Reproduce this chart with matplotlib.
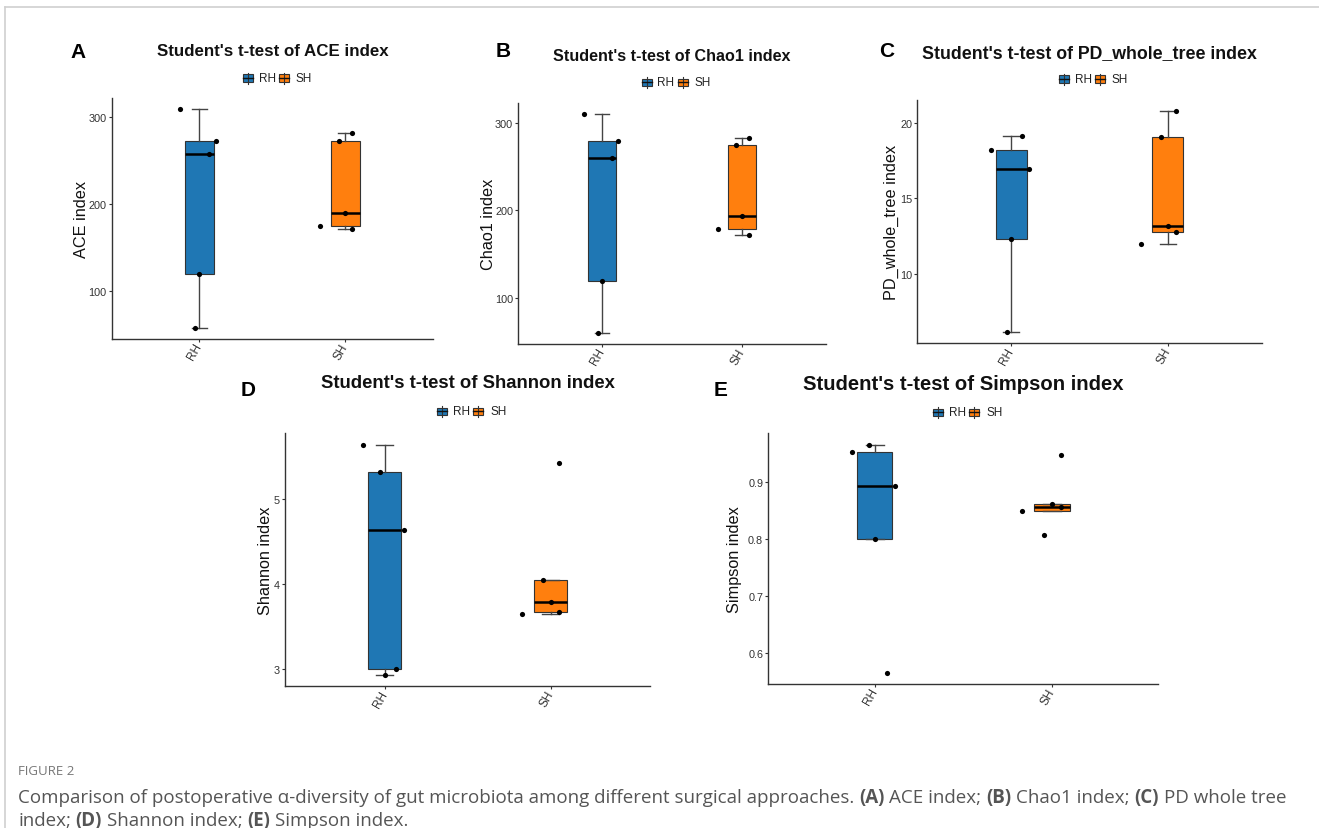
'''
Box plots of alpha diversity indices (RH vs SH), five panels plus caption
'''
import matplotlib
matplotlib.use('Agg')
import numpy as np
import matplotlib.pyplot as plt
from matplotlib.patches import Rectangle
from matplotlib.lines import Line2D

W, H = 1319, 829

GROUPS = ['RH', 'SH']
COLORS = ['#1f77b4', '#ff7f0e']

# sample values, same sample order in every panel
ace_rh = [309, 273, 258, 120, 58]
ace_sh = [282, 272, 190, 175, 172]
chao1_rh = [310, 279, 260, 119, 60]
chao1_sh = [282, 275, 193, 179, 172]
pd_rh = [18.2, 16.95, 19.16, 12.33, 6.11]
pd_sh = [20.79, 19.07, 13.13, 11.94, 12.74]
shannon_rh = [5.64, 4.63, 3.0, 2.93, 5.32]
shannon_sh = [5.42, 4.05, 3.79, 3.64, 3.67]
simpson_rh = [0.953, 0.894, 0.565, 0.800, 0.966]
simpson_sh = [0.948, 0.807, 0.861, 0.850, 0.857]

# horizontal jitter of the points
jit_rh = [-0.13, 0.115, 0.07, 0.0, -0.03]
jit_sh = [0.05, -0.045, 0.0, -0.17, 0.05]

plt.rcParams['font.family'] = ['Liberation Sans', 'DejaVu Sans']

fig = plt.figure(figsize=(W / 100, H / 100), dpi=100)
R = fig.canvas.get_renderer()

def fx(x):
    return x / W

def fy(y):
    return 1 - y / H

# panel layout in pixels: axes box, title, legend, letter, ylabel x
PANELS = [
    dict(letter='A', name='ACE', data=(ace_rh, ace_sh), ticks=[100, 200, 300],
         box=(111.7, 99.3, 432.7, 340), title=(273, 52), leg=(276.5, 79),
         let=(78, 52), ylab=81.5, tsize=12.2),
    dict(letter='B', name='Chao1', data=(chao1_rh, chao1_sh), ticks=[100, 200, 300],
         box=(518.3, 104, 826, 345), title=(671.7, 56.7), leg=(675, 83.3),
         let=(503, 51.7), ylab=488.5, tsize=11.6),
    dict(letter='C', name='PD_whole_tree', data=(pd_rh, pd_sh), ticks=[10, 15, 20],
         box=(917.3, 101, 1261.7, 344.3), title=(1089, 53.3), leg=(1092, 80),
         let=(886.7, 51.7), ylab=891, tsize=12.8),
    dict(letter='D', name='Shannon', data=(shannon_rh, shannon_sh), ticks=[3, 4, 5],
         box=(285.3, 434, 650, 687.3), title=(467.5, 383.3), leg=(470.7, 412.3),
         let=(248.3, 390), ylab=265, tsize=13.3),
    dict(letter='E', name='Simpson', data=(simpson_rh, simpson_sh), ticks=[0.6, 0.7, 0.8, 0.9],
         box=(768.3, 434.3, 1158.3, 685), title=(963, 385), leg=(966.7, 413.3),
         let=(720.7, 390), ylab=735, tsize=14.6),
]

def legend_key(x, y, color):
    # small boxplot glyph like ggplot's legend key
    fig.add_artist(Line2D([fx(x + 5), fx(x + 5)], [fy(y - 5.5), fy(y + 5.5)],
                          color='#333333', lw=0.8))
    fig.add_artist(Rectangle((fx(x), fy(y + 3.8)), 10 / W, 7.6 / H,
                             facecolor=color, edgecolor='#333333', lw=0.8))
    fig.add_artist(Line2D([fx(x), fx(x + 10)], [fy(y), fy(y)], color='#111111', lw=1.0))

for p in PANELS:
    l, t, r, b = p['box']
    ax = fig.add_axes([fx(l), fy(b), (r - l) / W, (b - t) / H])
    rh, sh = p['data']
    bp = ax.boxplot([rh, sh], positions=[1, 2], widths=0.2, patch_artist=True,
                    showfliers=False, whis=1.5, capwidths=0.1,
                    medianprops=dict(color='black', lw=1.8),
                    boxprops=dict(edgecolor='#333333', lw=0.8),
                    whiskerprops=dict(color='#444444', lw=1.0),
                    capprops=dict(color='#444444', lw=1.0))
    for patch, c in zip(bp['boxes'], COLORS):
        patch.set_facecolor(c)
    ax.scatter(1 + np.array(jit_rh), rh, s=14, color='black', zorder=4, lw=0)
    ax.scatter(2 + np.array(jit_sh), sh, s=14, color='black', zorder=4, lw=0)

    ax.set_xlim(0.4, 2.6)
    ax.margins(y=0.05)
    ax.set_yticks(p['ticks'], [f'{v:g}' for v in p['ticks']])
    ax.set_xticks([1, 2], GROUPS)
    for lab in ax.get_xticklabels():
        lab.set_rotation(60)
        lab.set_ha('right')
        lab.set_va('center')
        lab.set_rotation_mode('anchor')
    ax.tick_params(colors='#333333', length=2.5, width=0.8, pad=1.2)
    ax.tick_params(axis='y', labelsize=7.8)
    ax.tick_params(axis='x', labelsize=8.5)
    for s in ['top', 'right']:
        ax.spines[s].set_visible(False)
    for s in ['left', 'bottom']:
        ax.spines[s].set_color('#333333')
        ax.spines[s].set_linewidth(1.0)

    fig.text(fx(p['title'][0]), fy(p['title'][1]), f"Student's t-test of {p['name']} index",
             ha='center', va='center', fontsize=p['tsize'], weight='bold', color='#111111')
    fig.text(fx(p['let'][0]), fy(p['let'][1]), p['letter'], ha='center', va='center',
             fontsize=15, weight='bold', color='black')
    fig.text(fx(p['ylab']), fy((t + b) / 2), f"{p['name']} index", rotation=90,
             ha='center', va='center', fontsize=11.7, color='#111111')

    cx, cy = p['leg']
    legend_key(cx - 33.5, cy, COLORS[0])
    fig.text(fx(cx - 17.5), fy(cy), 'RH', ha='left', va='center', fontsize=8.5, color='#222222')
    legend_key(cx + 2.5, cy, COLORS[1])
    fig.text(fx(cx + 19.5), fy(cy), 'SH', ha='left', va='center', fontsize=8.5, color='#222222')

# frame lines of the figure page
fig.add_artist(Line2D([fx(5), 1], [fy(8), fy(8)], color='#d0d0d0', lw=1.2))
fig.add_artist(Line2D([fx(5), fx(5)], [fy(8), 0], color='#d0d0d0', lw=1.2))

# caption
CAP_FONT = ['Open Sans', 'DejaVu Sans']
CAP_COLOR = '#555555'

def text_w(s, **kw):
    tx = fig.text(0, 0, s, **kw)
    w = tx.get_window_extent(renderer=R).width
    tx.remove()
    return w

def rich(x, y, parts, size):
    for s, bold in parts:
        kw = dict(fontsize=size, family=CAP_FONT, weight='bold' if bold else 'normal')
        sp = text_w('x x', **kw) - text_w('xx', **kw)
        lead = len(s) - len(s.lstrip(' '))
        trail = len(s) - len(s.rstrip(' '))
        x += lead * sp
        core = s.strip(' ')
        if core:
            fig.text(fx(x), fy(y), core, ha='left', va='center', color=CAP_COLOR, **kw)
            x += text_w(core, **kw)
        x += trail * sp

fig.text(fx(18), fy(772), 'FIGURE 2', ha='left', va='center', fontsize=9.5,
         family=CAP_FONT, color='#777777')
rich(18, 798, [('Comparison of postoperative \u03b1-diversity of gut microbiota among different '
                'surgical approaches. ', False), ('(A)', True), (' ACE index; ', False),
               ('(B)', True), (' Chao1 index; ', False), ('(C)', True),
               (' PD whole tree', False)], 13.5)
rich(18, 821, [('index; ', False), ('(D)', True), (' Shannon index; ', False),
               ('(E)', True), (' Simpson index.', False)], 13.5)

fig.savefig('out.png', dpi=100)
